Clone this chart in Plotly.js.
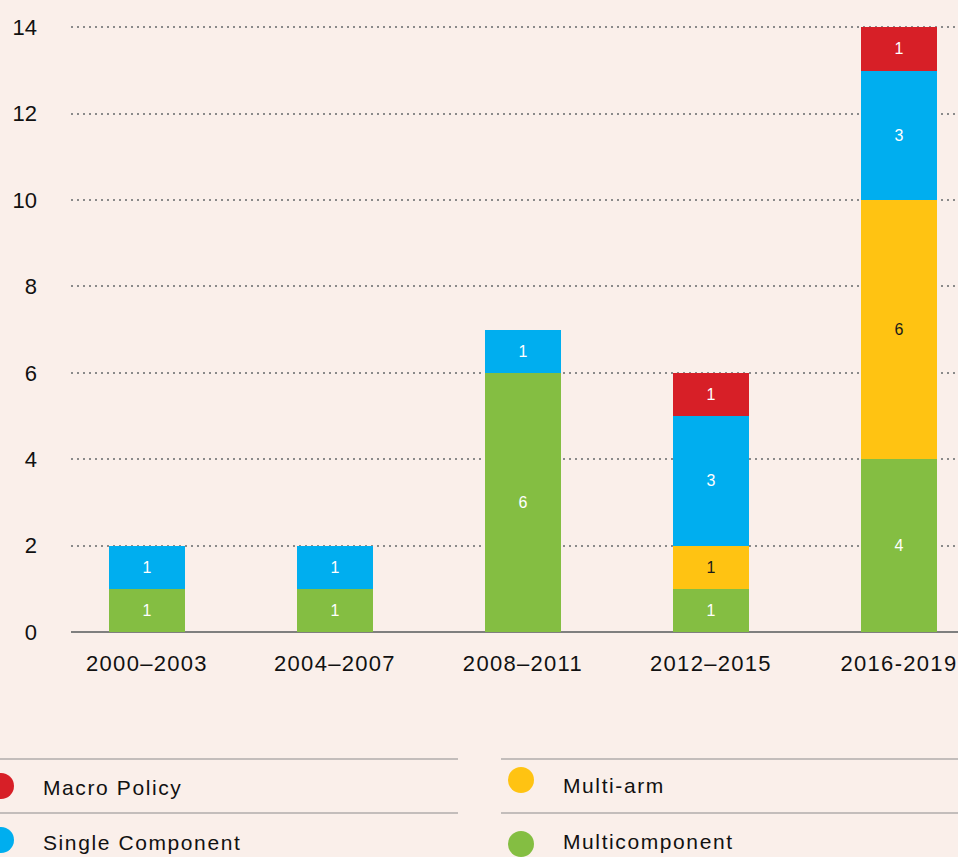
<!DOCTYPE html>
<html>
<head>
<meta charset="utf-8">
<script src="https://cdn.plot.ly/plotly-3.0.1.min.js"></script>
<style>
  html, body { margin: 0; padding: 0; background: #FAEFEA; }
  #chart { width: 958px; height: 857px; }
  .xtick text { letter-spacing: 1.3px; }
  .annotation-text { letter-spacing: 1.6px; }
</style>
</head>
<body>
<div id="chart"></div>
<script>
// ---- Data ----
const periods = ["2000\u20132003", "2004\u20132007", "2008\u20132011", "2012\u20132015", "2016-2019"];
const multicomponent = [1, 1, 6, 1, 4];
const multiArm = [null, null, null, 1, 6];
const singleComponent = [1, 1, 1, 3, 3];
const macroPolicy = [null, null, null, 1, 1];
const yTicks = [0, 2, 4, 6, 8, 10, 12, 14];

// ---- Styles ----
const BG = "#FAEFEA";
const FONT = "Liberation Sans, Arial, Helvetica, sans-serif";
const colors = {
  macro: "#D71F27",
  single: "#00AEEF",
  multiArm: "#FFC312",
  multi: "#84BE42"
};

// pixel helpers (plot area: x 71..958, y 23..632)
const L = 71, R = 958, T = 23, B = 632;
const px = p => (p - L) / (R - L);
const py = p => (B - p) / (B - T);

function labels(arr) { return arr.map(v => (v === null ? "" : String(v))); }

function barTrace(name, vals, color, textColor) {
  return {
    type: "bar",
    name: name,
    x: periods,
    y: vals,
    text: labels(vals),
    textposition: "inside",
    insidetextanchor: "middle",
    textangle: 0,
    textfont: { family: FONT, size: 16, color: textColor },
    marker: { color: color, line: { width: 0 } },
    width: 0.404,
    hoverinfo: "skip",
    cliponaxis: false
  };
}

const data = [
  barTrace("Multicomponent", multicomponent, colors.multi, "#FFFFFF"),
  barTrace("Multi-arm", multiArm, colors.multiArm, "#1a1a1a"),
  barTrace("Single Component", singleComponent, colors.single, "#FFFFFF"),
  barTrace("Macro Policy", macroPolicy, colors.macro, "#FFFFFF")
];

const legendItems = [
  { text: "Macro Policy", color: colors.macro, cx: 1, cy: 786, tx: 42, ty: 787 },
  { text: "Single Component", color: colors.single, cx: 1, cy: 840, tx: 42, ty: 842 },
  { text: "Multi-arm", color: colors.multiArm, cx: 521, cy: 780, tx: 562, ty: 785 },
  { text: "Multicomponent", color: colors.multi, cx: 521, cy: 844, tx: 562, ty: 841 }
];

const shapes = [];
[[0, 458], [501, 958]].forEach(([a, b]) => {
  [759, 813].forEach(yy => {
    shapes.push({
      type: "line", xref: "paper", yref: "paper",
      x0: px(a), x1: px(b), y0: py(yy), y1: py(yy),
      line: { color: "#8C8C8C", width: 1.2 }
    });
  });
});
const annotations = [];
legendItems.forEach(it => {
  const r = 13;
  shapes.push({
    type: "circle", xref: "paper", yref: "paper",
    x0: px(it.cx - r), x1: px(it.cx + r), y0: py(it.cy + r), y1: py(it.cy - r),
    fillcolor: it.color, line: { width: 0 }
  });
  annotations.push({
    xref: "paper", yref: "paper", x: px(it.tx), y: py(it.ty),
    xanchor: "left", yanchor: "middle", showarrow: false,
    text: it.text, borderpad: 0,
    font: { family: FONT, size: 21, color: "#111111" }
  });
});

const layout = {
  width: 958,
  height: 857,
  paper_bgcolor: BG,
  plot_bgcolor: BG,
  barmode: "stack",
  bargap: 0,
  showlegend: false,
  margin: { l: L, r: 958 - R, t: T, b: 857 - B, pad: 0 },
  font: { family: FONT, color: "#111111" },
  xaxis: {
    type: "category",
    categoryorder: "array",
    categoryarray: periods,
    range: [-0.404, 4.314],
    showgrid: false,
    zeroline: false,
    showline: false,
    ticks: "",
    ticklabelstandoff: 16,
    tickfont: { family: FONT, size: 22, color: "#111111" },
    fixedrange: true
  },
  yaxis: {
    range: [0, 14.1],
    tickvals: yTicks,
    ticktext: yTicks.map(String),
    showgrid: true,
    gridcolor: "#8A8A8A",
    gridwidth: 2,
    griddash: "2px,4px",
    zeroline: true,
    zerolinecolor: "#7F7F7F",
    zerolinewidth: 2,
    showline: false,
    ticks: "",
    ticklabelstandoff: 33,
    tickfont: { family: FONT, size: 22, color: "#111111" },
    fixedrange: true
  },
  shapes: shapes,
  annotations: annotations
};

Plotly.newPlot("chart", data, layout, { displayModeBar: false, staticPlot: true });
</script>
</body>
</html>
